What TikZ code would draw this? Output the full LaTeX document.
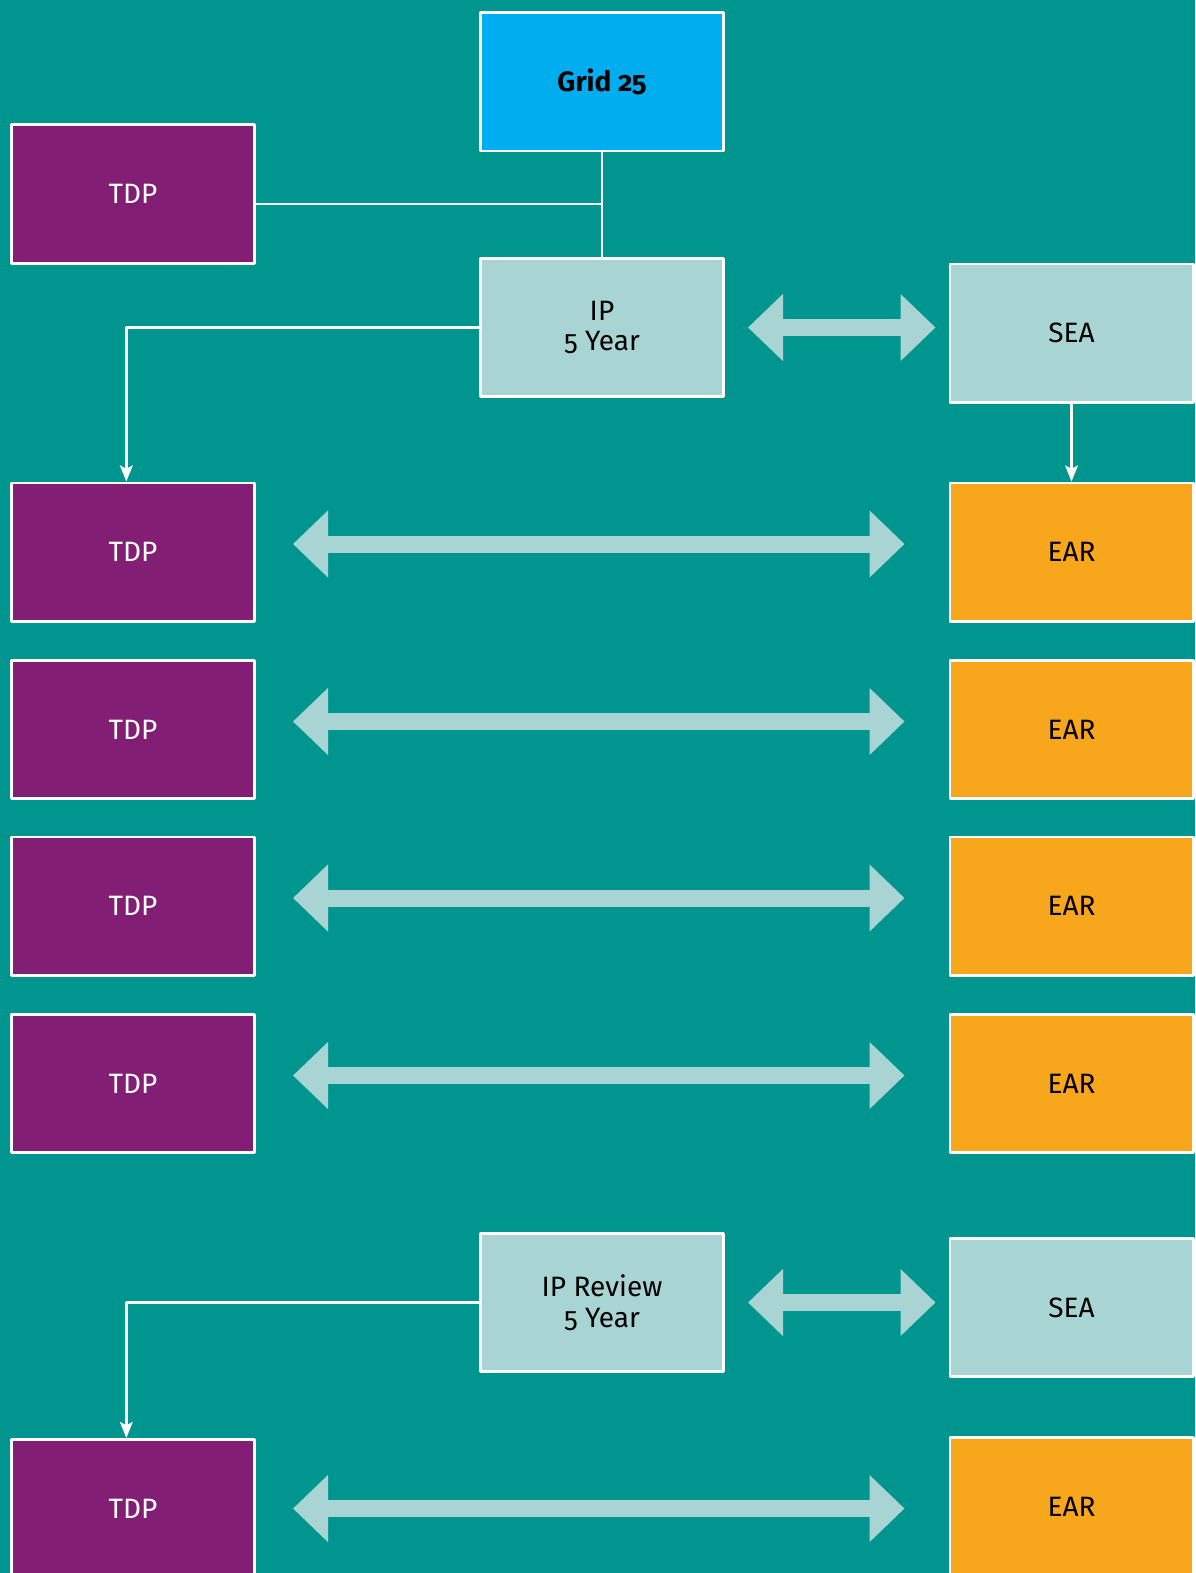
\documentclass[tikz,border=0pt]{standalone}
\usepackage{fontspec}
\setmainfont{Fira Sans}[Numbers=OldStyle]
\usetikzlibrary{arrows.meta}
\definecolor{bgteal}{RGB}{0,150,143}
\definecolor{tdppurple}{RGB}{130,30,116}
\definecolor{gridblue}{RGB}{0,174,239}
\definecolor{palecyan}{RGB}{168,213,211}
\definecolor{earorange}{RGB}{248,166,27}
\begin{document}
\begin{tikzpicture}[x=0.75pt, y=-0.75pt, font=\fontsize{21}{23}\selectfont, line join=round, >={Stealth[length=12pt,width=9.5pt,inset=2.5pt]},
  box/.style={draw=white, line width=2pt, minimum width=182.5pt, minimum height=103.75pt, inner sep=0pt, align=center},
  tdpbox/.style={box, fill=tdppurple, text=white},
  earbox/.style={box, fill=earorange},
  ipbox/.style={box, fill=palecyan},
  gridbox/.style={box, fill=gridblue},
  link/.style={draw=white, line width=2pt},
  twoway/.style={draw=palecyan, line width=12.75pt, {Triangle[length=26.25pt,width=48.75pt]}-{Triangle[length=26.25pt,width=48.75pt]}}]
\useasboundingbox (0,0) rectangle (1195,1573);
\clip (0,0) rectangle (1195,1573);
\fill[bgteal] (0,0) rectangle (1195,1573);
% top part
\node[gridbox] (grid) at (602,82) {\bfseries Grid 25};
\node[tdpbox] (tdp0) at (133,194) {TDP};
\node[ipbox] (ip) at (602,327.5) {IP\\5 Year};
\node[ipbox] (sea) at (1071.5,333) {SEA};
\coordinate (j) at ([yshift=-7.5pt]tdp0.east -| grid.south);
\draw[link] (grid.south) -- (ip.north);
\draw[link] (tdp0.east |- j) -- (j);
\draw[twoway, shorten <=17.25pt, shorten >=9.75pt] (ip.east) -- (ip.east -| sea.west);
% rows
\foreach \i/\y in {1/552,2/729.5,3/906,4/1083.5}{
  \node[tdpbox] (tdp\i) at (133,\y) {TDP};
  \node[earbox] (ear\i) at (1071.5,\y) {EAR};
  \draw[twoway, shorten <=27.75pt, shorten >=33pt] ([yshift=6pt]tdp\i.east) -- ([yshift=6pt]ear\i.west);
}
\draw[link,->] (ip.west) -| ([xshift=-5pt]tdp1.north);
\draw[link,->] (sea.south) -- (ear1.north);
% review
\node[ipbox] (ipr) at (602,1302.5) {IP Review\\5 Year};
\node[ipbox] (sear) at (1071.5,1307.5) {SEA};
\draw[twoway, shorten <=17.25pt, shorten >=9.75pt] (ipr.east) -- (ipr.east -| sear.west);
\node[tdpbox] (tdp5) at (133,1508.5) {TDP};
\node[earbox] (ear5) at (1071.5,1506.5) {EAR};
\draw[twoway, shorten <=27.75pt, shorten >=33pt] (tdp5.east) -- (tdp5.east -| ear5.west);
\draw[link,->] (ipr.west) -| ([xshift=-5pt]tdp5.north);
\end{tikzpicture}
\end{document}
